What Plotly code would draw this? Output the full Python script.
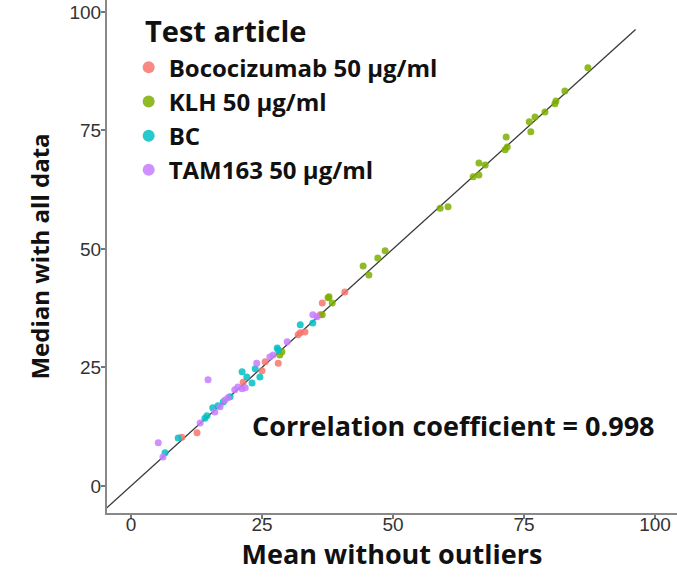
import plotly.graph_objects as go

# Mean without outliers (x) vs. median with all data (y), per test article
boco_x = [9.7, 12.6, 21.4, 25.0, 25.6, 28.1, 31.9, 32.3, 33.2, 36.1, 36.5, 40.8]
boco_y = [10.3, 11.2, 21.9, 24.3, 26.2, 25.9, 31.9, 32.3, 32.5, 36.1, 38.6, 40.9]

klh_x = [28.4, 28.8, 36.5, 37.6, 38.4, 37.8, 44.3, 45.4, 47.1, 48.5, 59.0, 60.5,
         65.3, 66.4, 66.4, 67.6, 71.4, 71.8, 71.6, 76.3, 76.0, 77.1, 79.0, 80.9,
         81.1, 82.8, 87.2]
klh_y = [27.6, 28.3, 36.1, 39.7, 38.6, 39.9, 46.4, 44.5, 48.1, 49.6, 58.6, 58.9,
         65.2, 65.6, 68.1, 67.7, 70.9, 71.5, 73.6, 74.7, 76.8, 77.8, 78.9, 80.6,
         81.2, 83.3, 88.2]

bc_x = [6.5, 9.0, 14.1, 14.5, 15.6, 16.6, 17.6, 18.9, 21.2, 22.1, 23.1, 23.7,
        24.6, 27.9, 28.1, 32.3, 34.7]
bc_y = [7.0, 10.1, 14.3, 14.8, 16.5, 16.9, 17.7, 18.8, 24.1, 23.0, 21.7, 24.7,
        23.0, 29.1, 28.7, 34.0, 34.4]

tam_x = [5.2, 6.1, 13.2, 14.7, 16.0, 17.0, 17.9, 18.5, 19.8, 20.4, 21.2, 21.8,
         24.0, 26.5, 27.1, 29.8, 34.7, 35.5]
tam_y = [9.1, 6.1, 13.3, 22.4, 15.6, 16.7, 18.1, 18.6, 20.3, 20.9, 20.5, 20.7,
         25.9, 27.2, 27.6, 30.4, 36.1, 35.7]

series = [
    ("Bococizumab 50 µg/ml", boco_x, boco_y, "#F8766D"),
    ("KLH 50 µg/ml", klh_x, klh_y, "#7CAE00"),
    ("BC", bc_x, bc_y, "#00BFC4"),
    ("TAM163 50 µg/ml", tam_x, tam_y, "#C77CFF"),
]

identity_x = [-6, 96.3]
ticks = [0, 25, 50, 75, 100]
correlation = 0.998

fig = go.Figure()

# identity line y = x
fig.add_trace(go.Scatter(
    x=identity_x, y=identity_x, mode="lines",
    line=dict(color="#3a3a3a", width=1.3), showlegend=False, hoverinfo="skip",
))

for name, xs, ys, color in series:
    fig.add_trace(go.Scatter(
        x=xs, y=ys, mode="markers", name=f"<b>{name}</b>",
        marker=dict(color=color, size=7, opacity=0.85, line=dict(width=0)),
    ))

sans = "'Open Sans', Lato, sans-serif"
tick_font = dict(family="'Liberation Sans', Arial, sans-serif", size=19, color="#333333")

fig.update_layout(
    width=677, height=577,
    margin=dict(l=107, r=0, t=0, b=64),
    paper_bgcolor="white", plot_bgcolor="white",
    xaxis=dict(
        range=[-4.58, 104.2], tickvals=ticks, ticks="outside", ticklen=4,
        tickcolor="#777777", tickwidth=1.5, showgrid=False, zeroline=False,
        showline=True, linecolor="#888888", linewidth=2, tickfont=tick_font,
        ticklabelstandoff=-11,
        title=dict(text="<b>Mean without outliers</b>",
                   font=dict(family=sans, size=27, color="#111111"), standoff=6),
    ),
    yaxis=dict(
        range=[-5.7, 102.5], tickvals=ticks, ticks="outside", ticklen=4,
        tickcolor="#777777", tickwidth=1.5, showgrid=False, zeroline=False,
        showline=True, linecolor="#888888", linewidth=2, tickfont=tick_font,
        ticklabelstandoff=-4,
        title=dict(text="<b>Median with all data</b>",
                   font=dict(family=sans, size=24, color="#111111"), standoff=13),
    ),
    legend=dict(
        x=0.038, y=0.912, xanchor="left", yanchor="top",
        bgcolor="rgba(0,0,0,0)", traceorder="normal",
        font=dict(family=sans, size=24, color="#111111"),
        itemsizing="constant",
    ),
    annotations=[
        dict(
            x=0.063, y=0.9415, xref="paper", yref="paper", xanchor="left",
            yanchor="middle", showarrow=False, text="<b>Test article</b>",
            font=dict(family=sans, size=29, color="#111111"),
        ),
        dict(
            x=100.3, y=12.8, xref="x", yref="y", xanchor="right", showarrow=False,
            text=f"<b>Correlation coefficient = {correlation}</b>",
            font=dict(family=sans, size=27, color="#111111"),
        ),
    ],
)

fig.write_html("out.html")
